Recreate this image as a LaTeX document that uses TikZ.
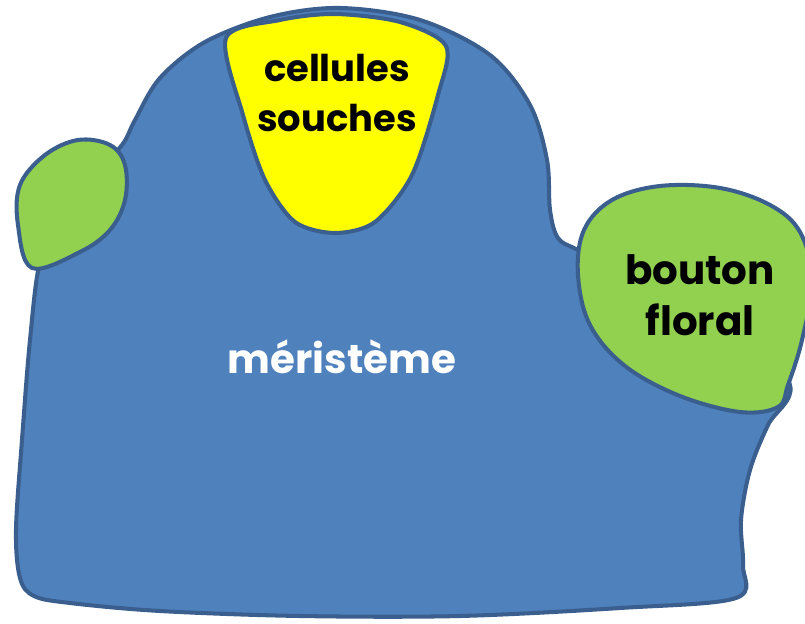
\documentclass[tikz,border=0pt]{standalone}
\usepackage{fontspec}
\setmainfont{Poppins}

\definecolor{meristem}{HTML}{4F81BD}
\definecolor{edgeblue}{HTML}{3A5F8E}
\definecolor{budgreen}{HTML}{92D050}
\definecolor{stemyellow}{HTML}{FFFF00}

\begin{document}
\begin{tikzpicture}[
    x=0.02cm, y=-0.02cm,
    tissue/.style={draw=edgeblue, line width=2.3pt, line join=round},
    label/.style={font=\bfseries\fontsize{23}{29}\selectfont, align=center}
]

\clip (0,0) rectangle (805,624);

% Meristem body
\draw[tissue, fill=meristem] plot[smooth cycle, tension=0.55] coordinates {
  (40,262) (30,340) (22,440) (16,530) (20,578) (34,596) (70,603)
  (160,611) (300,616) (460,616) (620,608) (736,598) (743,565)
  (741,520) (750,470) (768,425) (790,385)
  (740,320) (640,280) (578,250) (558,238) (550,210) (547,160)
  (530,105) (490,55) (420,20) (340,8) (270,17) (205,42) (160,78)
  (135,120) (122,145) (90,180) (60,230)};

% Left young bud
\draw[tissue, fill=budgreen] plot[smooth cycle, tension=0.6] coordinates {
  (32,268) (18,225) (20,185) (45,155) (78,140) (110,145) (125,165)
  (125,200) (110,230) (80,252)};

% Floral bud on the right
\draw[tissue, fill=budgreen] plot[smooth cycle, tension=0.6] coordinates {
  (578,275) (584,230) (612,200) (660,186) (720,188) (770,205)
  (800,232) (812,280) (802,340) (788,385) (778,407) (740,412)
  (680,396) (625,366) (590,325)};

% Stem cell zone
\draw[tissue, fill=stemyellow] plot[smooth cycle, tension=0.5] coordinates {
  (226,38) (280,20) (335,14) (400,22) (446,46) (438,95) (412,175)
  (375,222) (335,233) (295,222) (265,180) (243,115)};

% Labels
\node[label, font=\bfseries\fontsize{21}{28}\selectfont] (stem) at (337,93) {cellules\\souches};
\node[label, text=white] (meri) at (342,357) {méristème};
\node[label] (bud) at (700,295) {bouton\\floral};

\end{tikzpicture}
\end{document}
